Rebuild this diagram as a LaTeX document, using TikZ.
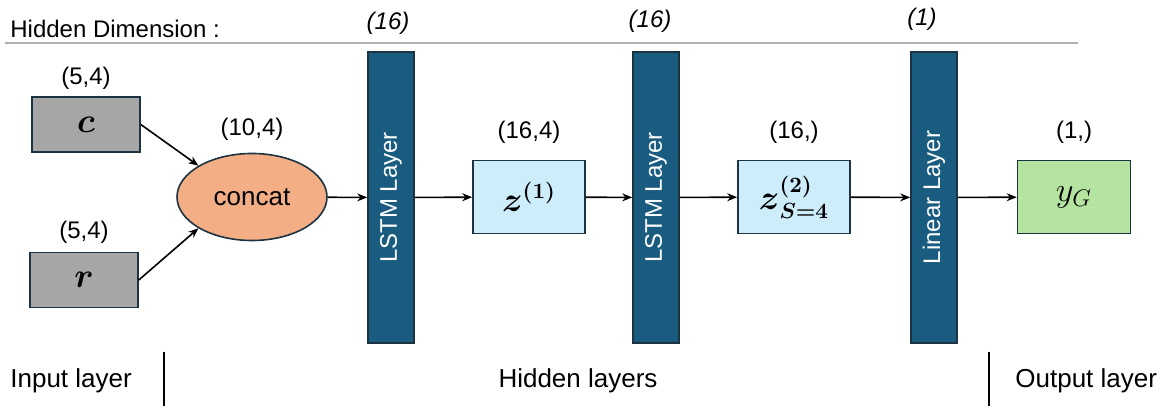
\documentclass[tikz,border=0pt]{standalone}
\usepackage{amsmath}
\usepackage{fontspec}
\setmainfont{Liberation Sans}
\usetikzlibrary{positioning,shapes.geometric,arrows.meta}

\definecolor{boxline}{HTML}{1C3442}
\definecolor{ingray}{HTML}{A6A6A6}
\definecolor{concatfill}{HTML}{F3AE85}
\definecolor{hidfill}{HTML}{CDEDFB}
\definecolor{barfill}{HTML}{1A5C80}
\definecolor{outfill}{HTML}{B5E4A1}
\definecolor{rulegray}{HTML}{B0B0B0}

\begin{document}
\begin{tikzpicture}[x=0.5pt,y=-0.5pt,>={Stealth[length=5pt,width=4pt]},
  inbox/.style={draw=boxline,line width=0.8pt,fill=ingray,minimum width=54pt,minimum height=27.5pt,
    font=\fontsize{17}{20}\selectfont},
  hidbox/.style={draw=boxline,line width=0.8pt,fill=hidfill,minimum width=56pt,minimum height=36.5pt,
    font=\fontsize{16}{19}\selectfont},
  outbox/.style={draw=boxline,line width=0.8pt,fill=outfill,minimum width=56.5pt,minimum height=36.5pt,
    font=\fontsize{17}{20}\selectfont},
  layerbar/.style={draw=boxline,line width=0.8pt,fill=barfill,text=white,rotate=90,
    minimum width=145.5pt,minimum height=23pt,font=\fontsize{12}{14}\selectfont},
  dimlabel/.style={font=\fontsize{12}{14}\selectfont,inner sep=1pt},
  toplabel/.style={font=\fontsize{12}{14}\selectfont\itshape,inner sep=1pt},
  bottomlabel/.style={font=\fontsize{13}{15}\selectfont,inner sep=0pt}]
\useasboundingbox (0,0) rectangle (1168,410);

% header
\node[font=\fontsize{12}{14}\selectfont,anchor=west,inner sep=0pt] (hdim) at (10,29) {Hidden Dimension :};
\coordinate (hl) at (5,43);
\coordinate (hr) at (1078,43);
\draw[rulegray,line width=1pt] (hl) -- (hr);

% input layer
\node[inbox] (c) at (86,124.5) {$\boldsymbol{c}$};
\node[inbox] (r) at (84,280) {$\boldsymbol{r}$};
\node[dimlabel] (c_dim) [above=2pt of c] {(5,4)};
\node[dimlabel] (r_dim) [above=3pt of r] {(5,4)};

\node[ellipse,draw=boxline,line width=0.8pt,fill=concatfill,minimum width=75pt,minimum height=43.5pt,
  font=\fontsize{13}{15}\selectfont] (concat) at (252,197) {concat};
\node[dimlabel] (concat_dim) [above=5pt of concat] {(10,4)};

% hidden layers
\node[layerbar] (lstm_1) at (391,197.5) {LSTM Layer};
\node[hidbox] (z_1) at (529,197) {$\boldsymbol{z}^{\boldsymbol{(1)}}$};
\node[layerbar] (lstm_2) at (656,197.5) {LSTM Layer};
\node[hidbox] (z_2) at (794,197) {$\boldsymbol{z}^{\boldsymbol{(2)}}_{\boldsymbol{S=4}}$};
\node[layerbar] (lin) at (934,197.5) {Linear Layer};
\node[dimlabel] (z_1_dim) [above=7pt of z_1] {(16,4)};
\node[dimlabel] (z_2_dim) [above=7pt of z_2] {(16,)};

\node[toplabel] (lstm_1_dim) at (388,23) {(16)};
\node[toplabel] (lstm_2_dim) at (650,21) {(16)};
\node[toplabel] (lin_dim) at (922,19) {(1)};

% output layer
\node[outbox] (y) at (1074,197) {$y_G$};
\node[dimlabel] (y_dim) [above=7pt of y] {(1,)};

\path[->,line width=0.8pt]
  (c.east) edge (concat.north west)
  (r.east) edge (concat.south west)
  (concat) edge (lstm_1)
  (lstm_1) edge (z_1)
  (z_1) edge (lstm_2)
  (lstm_2) edge (z_2)
  (z_2) edge (lin)
  (lin) edge (y);

% bottom
\node[bottomlabel,anchor=west] (in_lbl) at (10,381) {Input layer};
\node[bottomlabel] (hid_lbl) at (578,381) {Hidden layers};
\node[bottomlabel,anchor=west] (out_lbl) at (1015,381) {Output layer};
\coordinate (d1a) at (164,352);
\coordinate (d1b) at (164,406);
\coordinate (d2a) at (989,352);
\coordinate (d2b) at (989,406);
\draw[line width=1pt] (d1a) -- (d1b);
\draw[line width=1pt] (d2a) -- (d2b);
\end{tikzpicture}
\end{document}
